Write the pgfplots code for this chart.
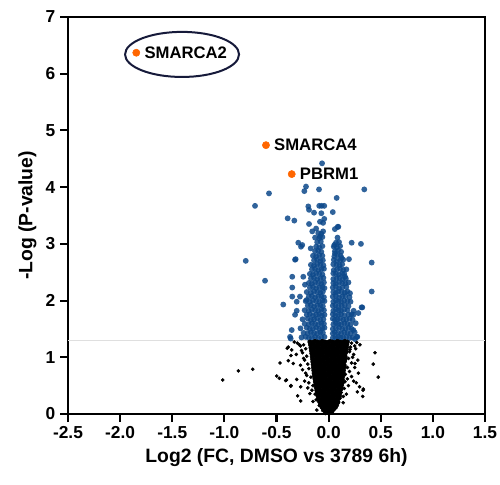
\documentclass[border=0pt]{standalone}
\usepackage{fontspec}
\setmainfont{Liberation Sans}
\usepackage{pgfplots}
\pgfplotsset{compat=1.18}
\definecolor{volblue}{RGB}{12,72,138}
\definecolor{hitorange}{RGB}{255,102,0}
\definecolor{ringnavy}{RGB}{22,26,58}

\begin{document}
\begin{tikzpicture}
\begin{axis}[
 scale only axis,width=312.75pt,height=297.75pt,
 xmin=-2.5,xmax=1.5,ymin=0,ymax=7,
 xtick={-2.5,-2,-1.5,-1,-0.5,0,0.5,1,1.5},
 ytick={0,1,2,3,4,5,6,7},
 tick pos=left,tick align=outside,major tick length=6pt,
 axis line style={line width=2pt},
 every tick/.style={black,line width=1.6pt},
 /pgf/number format/assume math mode=true,
 xticklabel={\pgfmathprintnumber[fixed,fixed zerofill,precision=1]{\tick}},
 yticklabel={\pgfmathprintnumber[fixed,precision=0]{\tick}},
 tick label style={font=\fontsize{13}{15}\selectfont\bfseries},
 label style={font=\fontsize{14.5}{17}\selectfont\bfseries},
 xlabel={Log2 (FC, DMSO vs 3789 6h)},
 ylabel={-Log (P-value)},
 clip=false,
]
% p = 0.05 cut-off
\addplot[gray!25,line width=0.7pt] coordinates {(-2.5,1.3) (1.5,1.3)};

% significant
\addplot[only marks,mark=*,mark size=2.2pt,color=volblue,mark options={fill=volblue,draw opacity=0,line width=0pt,fill opacity=0.85}] coordinates {
(-0.26,1.35)(-0.22,1.36)(-0.19,1.34)(-0.16,1.35)(-0.13,1.36)(-0.10,1.34)(-0.07,1.35)(-0.04,1.36)(0.04,1.34)(0.065,1.35)(0.09,1.36)(0.115,1.34)(0.14,1.35)(0.17,1.36)(0.20,1.34)(0.23,1.35)(0.27,1.36)
(-0.24,1.43)(-0.20,1.42)(-0.17,1.44)(-0.14,1.43)(-0.11,1.42)(-0.08,1.44)(-0.055,1.43)(0.04,1.42)(0.06,1.44)(0.09,1.43)(0.12,1.42)(0.15,1.44)(0.18,1.43)(0.21,1.42)(0.25,1.44)
(-0.27,1.51)(-0.21,1.52)(-0.18,1.50)(-0.15,1.51)(-0.12,1.52)(-0.09,1.50)(-0.06,1.51)(-0.04,1.52)(0.04,1.50)(0.07,1.51)(0.10,1.52)(0.13,1.50)(0.16,1.51)(0.19,1.52)(0.22,1.50)
(-0.23,1.59)(-0.19,1.58)(-0.16,1.60)(-0.13,1.59)(-0.10,1.58)(-0.07,1.60)(-0.045,1.59)(0.045,1.58)(0.07,1.60)(0.095,1.59)(0.12,1.58)(0.15,1.60)(0.18,1.59)(0.21,1.58)(0.26,1.60)
(-0.25,1.67)(-0.20,1.68)(-0.17,1.66)(-0.14,1.67)(-0.11,1.68)(-0.08,1.66)(-0.05,1.67)(0.04,1.68)(0.06,1.66)(0.085,1.67)(0.11,1.68)(0.14,1.66)(0.17,1.67)(0.20,1.68)(0.23,1.66)
(-0.21,1.75)(-0.18,1.76)(-0.15,1.74)(-0.12,1.75)(-0.09,1.76)(-0.065,1.74)(-0.04,1.75)(0.04,1.76)(0.065,1.74)(0.09,1.75)(0.12,1.76)(0.15,1.74)(0.19,1.75)(0.22,1.76)
(-0.23,1.83)(-0.19,1.82)(-0.16,1.84)(-0.13,1.83)(-0.10,1.82)(-0.07,1.84)(-0.045,1.83)(0.045,1.82)(0.07,1.84)(0.095,1.83)(0.12,1.82)(0.15,1.84)(0.18,1.83)(0.24,1.82)
(-0.20,1.91)(-0.17,1.92)(-0.14,1.90)(-0.11,1.91)(-0.08,1.92)(-0.055,1.90)(0.04,1.91)(0.065,1.92)(0.095,1.90)(0.125,1.91)(0.155,1.92)(0.19,1.90)
(-0.22,1.99)(-0.18,1.98)(-0.15,2.00)(-0.12,1.99)(-0.09,1.98)(-0.06,2.00)(-0.04,1.99)(0.045,1.98)(0.07,2.00)(0.095,1.99)(0.12,1.98)(0.15,2.00)(0.18,1.99)(0.21,1.98)
(-0.19,2.07)(-0.16,2.08)(-0.13,2.06)(-0.10,2.07)(-0.07,2.08)(-0.045,2.06)(0.04,2.07)(0.07,2.08)(0.10,2.06)(0.13,2.07)(0.16,2.08)(0.20,2.06)
(-0.21,2.15)(-0.17,2.14)(-0.14,2.16)(-0.11,2.15)(-0.08,2.14)(-0.055,2.16)(0.045,2.15)(0.07,2.14)(0.095,2.16)(0.125,2.15)(0.155,2.14)(0.18,2.16)
(-0.18,2.23)(-0.15,2.24)(-0.12,2.22)(-0.09,2.23)(-0.06,2.24)(-0.04,2.22)(0.04,2.23)(0.07,2.24)(0.10,2.22)(0.13,2.23)(0.17,2.24)
(-0.19,2.31)(-0.16,2.30)(-0.13,2.32)(-0.10,2.31)(-0.07,2.30)(-0.045,2.32)(0.045,2.31)(0.07,2.30)(0.10,2.32)(0.13,2.31)(0.16,2.30)(0.19,2.32)
(-0.17,2.39)(-0.14,2.40)(-0.11,2.38)(-0.08,2.39)(-0.05,2.40)(0.045,2.38)(0.075,2.39)(0.105,2.40)(0.135,2.38)(0.165,2.39)
(-0.18,2.47)(-0.15,2.46)(-0.12,2.48)(-0.09,2.47)(-0.06,2.46)(0.045,2.48)(0.07,2.47)(0.10,2.46)(0.13,2.48)(0.15,2.47)
(-0.16,2.55)(-0.13,2.56)(-0.10,2.54)(-0.07,2.55)(-0.045,2.56)(0.05,2.54)(0.08,2.55)(0.11,2.56)(0.14,2.54)(0.17,2.55)
(-0.17,2.63)(-0.14,2.62)(-0.11,2.64)(-0.08,2.63)(-0.05,2.62)(0.045,2.64)(0.075,2.63)(0.105,2.62)(0.13,2.64)
(-0.14,2.71)(-0.11,2.72)(-0.08,2.70)(-0.055,2.71)(0.05,2.72)(0.08,2.70)(0.11,2.71)(0.14,2.72)
(-0.15,2.79)(-0.12,2.78)(-0.09,2.80)(-0.06,2.79)(0.055,2.78)(0.085,2.80)(0.115,2.79)
(-0.13,2.87)(-0.10,2.88)(-0.07,2.86)(0.06,2.87)(0.09,2.88)(0.12,2.86)
(-0.12,2.95)(-0.09,2.94)(-0.06,2.96)(0.05,2.95)(0.08,2.94)(0.11,2.96)
(-0.11,3.03)(-0.075,3.04)(0.07,3.02)(0.10,3.03)
(-0.13,3.11)(-0.09,3.10)(-0.06,3.12)(0.085,3.11)
(-0.10,3.19)(-0.07,3.18)(-0.12,3.27)(0.06,3.26)
(-0.14,3.55)(-0.07,3.54)(0.04,3.56)
(-0.063,4.42)(-0.572,3.89)(-0.706,3.67)(0.342,3.96)(-0.217,4.01)(-0.233,3.93)(-0.092,3.96)
(0.077,3.81)(-0.795,2.70)(0.413,2.67)(-0.393,3.45)(-0.329,3.41)(-0.195,3.66)(-0.188,3.60)
(-0.09,3.67)(-0.042,3.67)(-0.067,3.67)(-0.042,3.44)(-0.083,3.39)(0.087,3.30)(0.221,3.02)
(0.31,3.00)(-0.291,3.02)(-0.265,2.95)(0.055,2.98)(-0.316,2.73)(0.195,2.73)(-0.61,2.35)
(0.413,2.16)(0.323,1.88)(-0.435,1.93)(-0.349,2.42)(-0.349,2.23)(-0.349,2.07)(-0.306,1.98)
(-0.354,1.48)(-0.364,1.33)(0.253,1.32)(0.237,1.48)(0.285,1.78)(-0.306,1.82)(-0.322,2.72)
(-0.188,3.35)(-0.053,3.37)(0.093,3.30)(-0.157,3.22)(-0.053,3.22)(-0.253,2.98)(-0.37,1.36)
(0.275,1.36)(-0.172,2.92)(-0.083,3.13)(0.061,2.83)(0.125,2.75)(0.157,2.42)(0.205,2.13)
(-0.243,2.42)(-0.227,2.28)(-0.211,2.01)(-0.275,2.07)(-0.322,1.75)(0.316,1.88)(0.237,1.75)
};

% not significant: dense core
\addplot[only marks,mark=*,mark size=1.6pt,color=black,mark options={fill=black,draw=none}] coordinates {
(-0.03,0.02)(-0.01,0.03)(0.01,0.02)(0.03,0.03)
(-0.05,0.07)(-0.026,0.08)(-0.002,0.06)(0.022,0.07)(0.046,0.08)
(-0.064,0.12)(-0.04,0.13)(-0.016,0.11)(0.008,0.12)(0.032,0.13)(0.056,0.11)(0.066,0.12)
(-0.078,0.17)(-0.054,0.16)(-0.03,0.18)(-0.006,0.17)(0.018,0.16)(0.042,0.18)(0.066,0.17)(0.078,0.16)
(-0.088,0.22)(-0.064,0.23)(-0.04,0.21)(-0.016,0.22)(0.008,0.23)(0.032,0.21)(0.056,0.22)(0.08,0.23)(0.09,0.21)
(-0.096,0.27)(-0.072,0.26)(-0.048,0.28)(-0.024,0.27)(0.0,0.26)(0.024,0.28)(0.048,0.27)(0.072,0.26)(0.096,0.28)
(-0.103,0.32)(-0.08,0.33)(-0.056,0.31)(-0.032,0.32)(-0.008,0.33)(0.016,0.31)(0.04,0.32)(0.064,0.33)(0.088,0.31)(0.104,0.32)
(-0.109,0.37)(-0.085,0.36)(-0.061,0.38)(-0.037,0.37)(-0.013,0.36)(0.011,0.38)(0.035,0.37)(0.059,0.36)(0.083,0.38)(0.107,0.37)
(-0.114,0.42)(-0.09,0.43)(-0.066,0.41)(-0.042,0.42)(-0.018,0.43)(0.006,0.41)(0.03,0.42)(0.054,0.43)(0.078,0.41)(0.102,0.42)(0.115,0.43)
(-0.119,0.47)(-0.095,0.46)(-0.071,0.48)(-0.047,0.47)(-0.023,0.46)(0.001,0.48)(0.025,0.47)(0.049,0.46)(0.073,0.48)(0.097,0.47)(0.12,0.46)
(-0.124,0.52)(-0.1,0.53)(-0.076,0.51)(-0.052,0.52)(-0.028,0.53)(-0.004,0.51)(0.02,0.52)(0.044,0.53)(0.068,0.51)(0.092,0.52)(0.116,0.53)(0.125,0.51)
(-0.128,0.57)(-0.104,0.56)(-0.08,0.58)(-0.056,0.57)(-0.032,0.56)(-0.008,0.58)(0.016,0.57)(0.04,0.56)(0.064,0.58)(0.088,0.57)(0.112,0.56)(0.129,0.58)
(-0.132,0.62)(-0.108,0.63)(-0.084,0.61)(-0.06,0.62)(-0.036,0.63)(-0.012,0.61)(0.012,0.62)(0.036,0.63)(0.06,0.61)(0.084,0.62)(0.108,0.63)(0.132,0.61)
(-0.136,0.67)(-0.112,0.66)(-0.088,0.68)(-0.064,0.67)(-0.04,0.66)(-0.016,0.68)(0.008,0.67)(0.032,0.66)(0.056,0.68)(0.08,0.67)(0.104,0.66)(0.128,0.68)(0.137,0.67)
(-0.14,0.72)(-0.116,0.73)(-0.092,0.71)(-0.068,0.72)(-0.044,0.73)(-0.02,0.71)(0.004,0.72)(0.028,0.73)(0.052,0.71)(0.076,0.72)(0.1,0.73)(0.124,0.71)(0.14,0.72)
(-0.143,0.77)(-0.119,0.76)(-0.095,0.78)(-0.071,0.77)(-0.047,0.76)(-0.023,0.78)(0.001,0.77)(0.025,0.76)(0.049,0.78)(0.073,0.77)(0.097,0.76)(0.121,0.78)(0.143,0.77)
(-0.146,0.82)(-0.122,0.83)(-0.098,0.81)(-0.074,0.82)(-0.05,0.83)(-0.026,0.81)(-0.002,0.82)(0.022,0.83)(0.046,0.81)(0.07,0.82)(0.094,0.83)(0.118,0.81)(0.142,0.82)(0.147,0.83)
(-0.149,0.87)(-0.125,0.86)(-0.101,0.88)(-0.077,0.87)(-0.053,0.86)(-0.029,0.88)(-0.005,0.87)(0.019,0.86)(0.043,0.88)(0.067,0.87)(0.091,0.86)(0.115,0.88)(0.139,0.87)(0.15,0.86)
(-0.152,0.92)(-0.128,0.93)(-0.104,0.91)(-0.08,0.92)(-0.056,0.93)(-0.032,0.91)(-0.008,0.92)(0.016,0.93)(0.04,0.91)(0.064,0.92)(0.088,0.93)(0.112,0.91)(0.136,0.92)(0.153,0.93)
(-0.155,0.97)(-0.131,0.96)(-0.107,0.98)(-0.083,0.97)(-0.059,0.96)(-0.035,0.98)(-0.011,0.97)(0.013,0.96)(0.037,0.98)(0.061,0.97)(0.085,0.96)(0.109,0.98)(0.133,0.97)(0.156,0.96)
(-0.158,1.02)(-0.134,1.03)(-0.11,1.01)(-0.086,1.02)(-0.062,1.03)(-0.038,1.01)(-0.014,1.02)(0.01,1.03)(0.034,1.01)(0.058,1.02)(0.082,1.03)(0.106,1.01)(0.13,1.02)(0.154,1.03)(0.159,1.01)
(-0.162,1.07)(-0.138,1.06)(-0.114,1.08)(-0.09,1.07)(-0.066,1.06)(-0.042,1.08)(-0.018,1.07)(0.006,1.06)(0.03,1.08)(0.054,1.07)(0.078,1.06)(0.102,1.08)(0.126,1.07)(0.15,1.06)(0.163,1.08)
(-0.166,1.12)(-0.142,1.13)(-0.118,1.11)(-0.094,1.12)(-0.07,1.13)(-0.046,1.11)(-0.022,1.12)(0.002,1.13)(0.026,1.11)(0.05,1.12)(0.074,1.13)(0.098,1.11)(0.122,1.12)(0.146,1.13)(0.167,1.11)
(-0.17,1.17)(-0.146,1.16)(-0.122,1.18)(-0.098,1.17)(-0.074,1.16)(-0.05,1.18)(-0.026,1.17)(-0.002,1.16)(0.022,1.18)(0.046,1.17)(0.07,1.16)(0.094,1.18)(0.118,1.17)(0.142,1.16)(0.166,1.18)(0.171,1.17)
(-0.174,1.22)(-0.15,1.23)(-0.126,1.21)(-0.102,1.22)(-0.078,1.23)(-0.054,1.21)(-0.03,1.22)(-0.006,1.23)(0.018,1.21)(0.042,1.22)(0.066,1.23)(0.09,1.21)(0.114,1.22)(0.138,1.23)(0.162,1.21)(0.175,1.22)
(-0.18,1.27)(-0.156,1.26)(-0.132,1.28)(-0.108,1.27)(-0.084,1.26)(-0.06,1.28)(-0.036,1.27)(-0.012,1.26)(0.012,1.28)(0.036,1.27)(0.06,1.26)(0.084,1.28)(0.108,1.27)(0.132,1.26)(0.156,1.28)(0.18,1.27)
};

% not significant: scattered
\addplot[only marks,mark=*,mark size=1.15pt,color=black,mark options={fill=black,draw=none}] coordinates {
(-1.016,0.60)(-0.866,0.76)(-0.728,0.79)(-0.466,0.90)(-0.498,0.67)(-0.473,0.63)(-0.412,0.59)
(-0.404,0.60)(-0.361,0.50)(-0.364,0.49)(-0.297,0.32)(-0.268,0.23)(-0.268,0.48)(-0.306,0.61)
(-0.387,1.18)(-0.354,1.13)(-0.361,1.03)(-0.387,0.94)(-0.339,0.89)(-0.397,1.16)(-0.113,0.07)
(0.445,1.08)(0.428,0.88)(0.476,0.65)(0.333,0.44)(0.327,0.31)(0.275,0.39)(0.285,0.72)
(0.253,0.89)(0.205,1.14)(0.157,0.57)(0.141,0.31)(0.265,0.55)(0.297,0.48)(0.33,0.42)
(-0.30,1.25)(-0.27,1.20)(-0.24,1.22)(-0.22,1.15)(-0.25,1.08)(-0.21,1.02)(-0.23,0.95)
(-0.20,0.88)(-0.19,0.80)(-0.22,0.72)(-0.17,0.65)(-0.19,0.55)(-0.15,0.50)(-0.16,0.42)
(-0.13,0.35)(-0.12,0.25)(-0.09,0.15)(0.22,1.25)(0.25,1.20)(0.20,1.10)(0.24,1.05)
(0.19,0.98)(0.22,0.90)(0.18,0.82)(0.20,0.75)(0.16,0.70)(0.18,0.62)(0.14,0.55)
(0.15,0.45)(0.12,0.38)(0.11,0.28)(0.08,0.18)(0.27,1.26)(0.21,1.18)
(-0.28,1.22)(-0.26,1.12)(-0.31,1.05)(-0.24,0.98)(-0.27,0.86)(-0.25,0.78)(-0.21,0.68)
(-0.23,0.58)(-0.20,0.46)(-0.18,0.36)(-0.15,0.22)(0.26,1.15)(0.23,1.00)(0.28,0.95)
(0.25,0.82)(0.22,0.66)(0.24,0.58)(0.19,0.50)(0.17,0.35)(0.14,0.20)(-0.33,1.27)(0.30,1.22)
};

% labelled hits
\addplot[only marks,mark=*,mark size=2.7pt,color=hitorange,mark options={fill=hitorange,draw=none}] coordinates {
(-1.845,6.37) (-0.601,4.74) (-0.354,4.23)
};
\node[anchor=west,inner sep=0pt,xshift=6pt,font=\fontsize{12.5}{14}\selectfont\bfseries] at (axis cs:-1.845,6.37) {SMARCA2};
\node[anchor=west,inner sep=0pt,xshift=6pt,font=\fontsize{12.5}{14}\selectfont\bfseries] at (axis cs:-0.601,4.74) {SMARCA4};
\node[anchor=west,inner sep=0pt,xshift=6pt,font=\fontsize{12.5}{14}\selectfont\bfseries] at (axis cs:-0.354,4.23) {PBRM1};
\draw[ringnavy,line width=1.5pt] (axis cs:-1.406,6.34) ellipse [x radius=42.75pt,y radius=16.9pt];
\end{axis}
\pgfresetboundingbox
\path ([xshift=-51pt,yshift=-52.5pt]current axis.south west) rectangle ([xshift=11.25pt,yshift=12.75pt]current axis.north east);
\end{tikzpicture}
\end{document}
